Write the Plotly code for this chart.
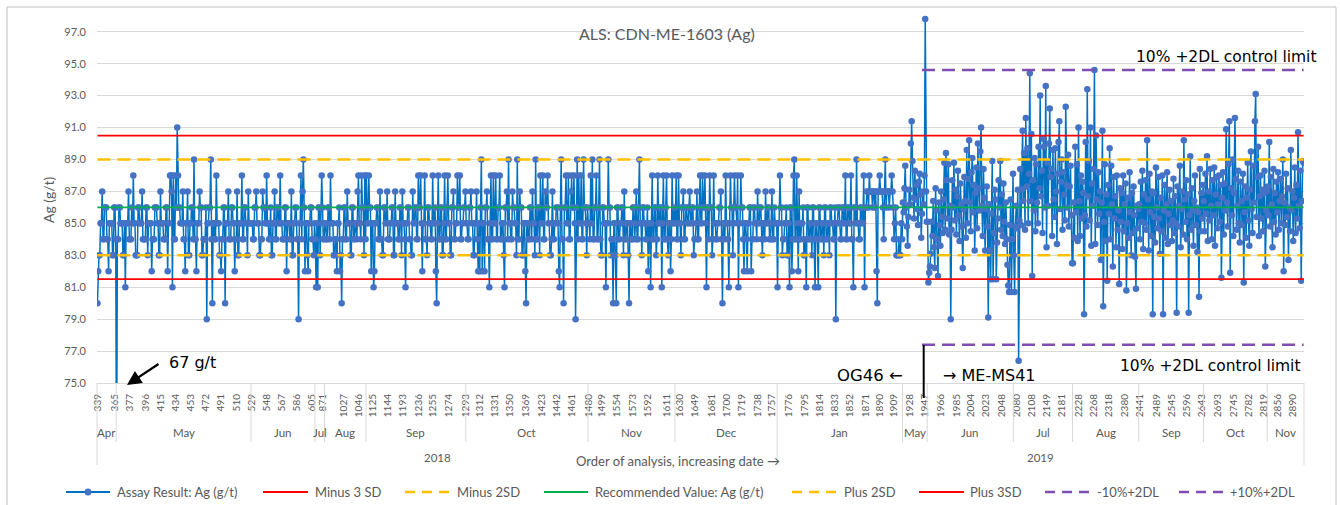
import plotly.graph_objects as go

# ---------------- data ----------------
month_names = ["Apr", "May", "Jun", "Jul", "Aug", "Sep", "Oct", "Nov", "Dec",
               "Jan", "May", "Jun", "Jul", "Aug", "Sep", "Oct", "Nov"]
year_names = ["2018", "2019"]
months_in_2018 = 9

apr_2018 = [80, 82, 83, 83, 85, 85, 87, 84, 84, 86, 86, 86, 84, 84, 82, 85, 85, 85, 85, 83, 83, 86, 86, 84]
may_2018 = [67, 84, 84, 86, 86, 85, 85, 85, 83, 83, 85, 81, 85, 85, 85, 87, 84, 84, 84, 86,
            85, 88, 85, 85, 83, 83, 83, 86, 86, 85, 85, 85, 87, 84, 84, 84, 84, 86, 86, 83,
            85, 85, 85, 85, 82, 84, 84, 84, 86, 86, 86, 85, 85, 83, 83, 87, 85, 85, 85, 84,
            84, 84, 86, 86, 82, 85, 85, 88, 88, 87, 81, 88, 84, 84, 88, 86, 91, 88, 86, 86,
            85, 85, 85, 87, 84, 84, 82, 85, 85, 87, 83, 83, 85, 85, 86, 86, 84, 89, 84, 84,
            82, 85, 85, 85, 87, 86, 86, 83, 83, 84, 84, 84, 86, 79, 85, 85, 86, 86, 89, 84,
            80, 85, 85, 84, 84, 88, 85, 85, 85, 83, 83, 82, 84, 84, 86, 86, 80, 85, 85, 85,
            87, 84, 84, 84, 86, 86, 85, 85, 82, 84, 84, 87, 83, 83, 85, 85, 85, 88, 84, 84,
            86, 86, 85, 85, 83, 87, 85, 85, 85]
jun_2018 = [85, 85, 84, 84, 86, 86, 87, 85, 85, 85, 83, 83, 84, 84, 87, 86, 86, 85, 85, 88,
            85, 85, 84, 84, 86, 83, 83, 85, 85, 87, 84, 84, 86, 86, 85, 85, 88, 85, 85, 84,
            84, 84, 86, 86, 82, 85, 85, 85, 84, 84, 87, 83, 83, 85, 85, 86, 86, 84, 84, 79,
            85, 85, 88, 84, 87, 89, 86, 82, 85, 85, 83, 82, 85, 85, 86, 86, 84, 84, 83, 85]
jul_2018 = [84, 81, 85, 81, 86, 86, 83, 85, 88, 86, 84, 84]
aug_2018 = [85, 85, 84, 84, 86, 86, 84, 88, 85, 85, 85, 83, 83, 84, 84, 82, 85, 85, 86, 82,
            83, 80, 84, 84, 86, 86, 84, 84, 87, 85, 85, 85, 83, 83, 86, 86, 84, 84, 85, 85,
            84, 87, 88, 85, 85, 84, 88, 86, 86, 83, 88, 84]
sep_2018 = [88, 85, 85, 88, 86, 86, 82, 85, 85, 81, 82, 85, 85, 86, 86, 84, 84, 87, 84, 84,
            83, 83, 86, 86, 85, 85, 87, 84, 84, 84, 85, 85, 86, 86, 83, 83, 87, 85, 85, 85,
            84, 84, 86, 86, 83, 87, 85, 85, 84, 81, 85, 85, 86, 86, 84, 84, 83, 83, 87, 85,
            85, 86, 86, 84, 84, 88, 86, 86, 88, 85, 82, 85, 85, 88, 84, 84, 83, 86, 86, 85,
            85, 84, 84, 88, 85, 85, 86, 82, 80, 85, 88, 84, 84, 86, 86, 83, 83, 85, 88, 84,
            84, 86, 88, 85, 85, 83, 83, 86, 86, 87, 84, 84, 85, 85, 88, 86, 86, 88, 84, 84,
            85, 85, 86, 86, 87]
oct_2018 = [85, 85, 84, 84, 86, 86, 87, 85, 85, 83, 83, 85, 85, 87, 84, 82, 85, 82, 86, 89,
            82, 85, 85, 82, 86, 86, 87, 84, 84, 81, 85, 88, 84, 84, 88, 85, 85, 88, 84, 84,
            86, 86, 88, 84, 84, 85, 85, 83, 81, 86, 86, 87, 84, 89, 85, 85, 84, 84, 87, 86,
            86, 85, 85, 83, 89, 84, 84, 87, 86, 86, 83, 83, 85, 85, 82, 80, 85, 85, 84, 84,
            86, 86, 84, 87, 85, 85, 83, 89, 84, 84, 86, 86, 83, 88, 85, 85, 88, 84, 84, 87,
            86, 86, 88, 85, 85, 83, 83, 84, 87, 84, 84, 85, 85, 86, 86, 85, 82, 81, 86, 89,
            84, 84, 80, 86, 86, 88, 85, 85, 88, 84, 84, 87, 88, 86, 86, 88, 85, 79, 86, 89,
            84, 88, 85, 85, 88, 84, 84, 89, 86, 86, 85, 83, 86]
nov_2018 = [85, 85, 84, 88, 85, 89, 84, 84, 86, 86, 88, 84, 84, 86, 89, 84, 83, 83, 86, 86,
            85, 85, 81, 85, 85, 89, 86, 86, 83, 84, 84, 80, 85, 85, 83, 80, 86, 86, 84, 84,
            85, 85, 86, 86, 83, 87, 84, 84, 85, 85, 83, 80, 85, 85, 84, 84, 86, 86, 84, 85,
            87, 84, 84, 86, 89, 85, 85, 83, 86, 86, 85, 85, 84, 84, 86, 82, 85, 85, 81, 85,
            88, 84, 84, 86, 86, 83, 84, 88, 85, 85, 86, 86, 81, 85, 88, 84, 84, 86, 88, 84,
            83, 85, 85, 82, 84, 88, 85, 85, 86]
dec_2018 = [85, 88, 84, 84, 88, 85, 85, 83, 86, 86, 87, 84, 84, 86, 86, 85, 85, 86, 87, 85,
            85, 86, 86, 83, 84, 84, 85, 87, 84, 84, 86, 88, 85, 85, 88, 86, 86, 88, 85, 81,
            86, 86, 84, 88, 86, 86, 83, 84, 88, 85, 85, 84, 84, 85, 85, 86, 86, 87, 84, 80,
            85, 85, 84, 88, 85, 85, 84, 81, 85, 88, 86, 86, 83, 85, 88, 86, 86, 85, 88, 81,
            85, 85, 88, 86, 86, 84, 82, 85, 85, 84, 82, 85, 85, 86, 86, 82, 84, 84, 86, 86,
            85, 85, 84, 87, 85, 85, 86, 86, 84, 83, 85, 85, 84, 87, 85, 85, 86, 86, 84, 84,
            85, 87, 84, 84, 86, 85, 85, 85]
jan_2019 = [81, 85, 85, 88, 86, 86, 83, 84, 84, 85, 85, 86, 83, 83, 85, 81, 86, 86, 82, 84,
            88, 89, 84, 84, 88, 85, 82, 87, 84, 84, 85, 85, 86, 83, 83, 84, 81, 86, 86, 84,
            84, 85, 85, 83, 86, 86, 84, 81, 85, 85, 84, 81, 86, 86, 84, 84, 85, 85, 83, 86,
            86, 84, 84, 85, 85, 83, 86, 86, 85, 85, 84, 84, 86, 79, 85, 85, 86, 86, 85, 84,
            84, 86, 86, 85, 85, 88, 84, 84, 86, 86, 85, 85, 88, 84, 84, 81, 86, 86, 85, 89,
            85, 85, 84, 84, 86, 86, 85, 85, 88, 81, 86, 86, 87, 87, 86, 88, 87, 87, 87, 86,
            87, 87, 86, 87, 82, 80, 87, 87, 88, 87, 87, 87, 86, 84, 87, 89, 86, 87, 87, 87,
            86, 87, 87, 88, 87, 86, 84, 85, 86, 83, 83, 83, 84, 83, 83, 85, 84]
may_2019 = [86.3, 85.7, 87.2, 88.6, 86.0, 84.8, 83.6, 85.4, 87.1, 86.2, 90.0, 91.4, 88.9, 86.6, 85.3, 88.3,
            86.5, 87.4, 85.9, 84.9, 87.6, 88.1, 86.8, 84.1, 85.6, 87.0, 86.2, 88.0, 97.8, 87.0, 85.1]
jun_2019 = [85.1, 81.3, 81.9, 82.3, 83.1, 85.1, 84.2, 86.4, 83.5, 82.2, 87.2, 85.8, 84.0, 81.7, 86.3, 84.9,
            83.6, 87.0, 85.4, 84.4, 86.5, 88.8, 84.6, 89.4, 87.7, 85.3, 88.7, 84.3, 86.1, 79.0,
            84.6, 87.7, 86.0, 88.8, 85.2, 87.1, 84.3, 86.7, 88.3, 85.5, 83.9, 87.5, 86.2, 84.8, 82.2, 85.9,
            87.9, 86.4, 84.1, 89.6, 85.0, 87.8, 90.2, 86.3, 84.5, 88.2, 89.1, 85.7, 87.4, 83.3, 86.9, 88.5,
            84.7, 90.0, 87.2, 85.8, 89.5, 91.0, 86.1, 84.2, 88.4, 86.6, 83.3, 85.9, 87.3, 84.8, 79.1, 86.2,
            83.3, 81.5, 85.6, 88.9, 81.5, 84.4, 87.1, 86.5, 81.5, 83.8, 85.3, 87.7, 86.0, 88.9, 84.6, 86.8,
            84.2, 87.5, 85.1, 83.7, 86.3, 84.0, 82.4, 81.1, 80.7, 84.9, 86.5, 80.7, 84.0, 88.1]
jul_2019 = [83.0, 80.7, 84.8, 86.1, 84.7, 87.1, 76.4, 85.2, 88.4, 84.9, 87.1, 90.8, 86.4, 89.4, 84.6, 91.6,
            87.3, 89.7, 85.0, 88.1, 94.4, 86.4, 90.6, 81.7, 87.7, 85.8, 89.1, 84.5, 88.7, 86.3, 85.0, 89.8,
            87.2, 93.0, 86.7, 88.3, 84.4, 90.3, 89.8, 86.0, 93.6, 83.5, 88.8, 86.1, 90.0, 92.2, 87.9, 88.4,
            84.2, 89.6, 86.5, 85.4, 89.7, 87.0, 83.7, 88.1, 90.1, 91.4, 85.9, 87.6, 89.0, 84.6, 88.2, 86.8,
            85.2, 92.3, 87.4, 86.0, 89.3, 84.8, 87.3, 88.6, 85.5, 82.5]
aug_2019 = [82.5, 86.3, 84.1, 89.8, 85.7, 88.7, 83.9, 91.0, 86.4, 84.2, 88.0, 85.3, 87.6, 86.9, 79.3, 85.5,
            90.1, 84.8, 93.4, 86.7, 88.9, 85.2, 91.0, 83.6, 87.5, 86.1, 88.4, 94.6, 83.7, 90.5, 86.5, 84.9,
            88.2, 85.6, 87.0, 82.7, 86.3, 90.8, 79.8, 85.1, 88.7, 83.9, 86.8, 81.4, 87.4, 85.6, 89.7, 84.0,
            88.6, 86.2, 82.3, 87.9, 85.3, 86.7, 83.5, 88.0, 84.6, 85.8, 81.2, 87.2, 85.1, 86.9, 83.4, 88.0,
            84.5, 86.2, 87.5, 80.8, 85.0, 86.6, 84.1, 88.2, 85.7, 83.0, 86.9, 84.4, 87.3, 85.5, 82.9, 80.9,
            86.1, 84.7, 85.9]
sep_2019 = [86.2, 84.0, 87.6, 85.1, 88.3, 83.4, 86.8, 85.0, 87.7, 84.6, 90.2, 86.5, 83.3, 88.1, 85.7, 84.2,
            87.0, 79.3, 86.9, 85.4, 83.8, 88.5, 86.0, 84.7, 87.9, 85.3, 83.1, 86.6, 84.5, 88.0, 79.3, 85.8,
            87.4, 84.1, 86.2, 88.2, 83.7, 85.6, 87.1, 84.9, 86.4, 83.9, 85.2, 87.8, 84.4, 86.7, 85.0, 79.4,
            87.3, 84.8, 86.1, 88.6, 83.5, 85.9, 87.0, 84.3, 90.2, 86.5, 85.1, 87.7, 84.0, 86.8, 79.4, 85.5,
            89.2, 84.6, 87.2, 85.8, 83.6, 86.4, 88.0, 84.9, 86.0, 83.2, 85.7, 80.4, 88.4, 84.5, 86.9, 85.3,
            87.4]
oct_2019 = [86.4, 84.5, 88.1, 85.6, 89.2, 83.9, 87.0, 85.2, 88.4, 86.1, 84.0, 87.7, 85.5, 88.5, 83.6, 86.8,
            87.9, 84.7, 86.2, 88.0, 85.1, 87.4, 81.6, 86.6, 88.2, 84.3, 87.5, 85.8, 90.9, 86.3, 84.8, 88.7,
            91.4, 81.9, 87.2, 85.5, 89.0, 84.2, 86.9, 91.6, 87.8, 84.6, 86.1, 88.3, 85.0, 83.8, 87.6, 86.4,
            84.9, 88.1, 81.3, 85.7, 87.3, 84.1, 86.6, 88.8, 85.2, 83.6, 87.1, 89.5, 85.9, 84.4, 88.6, 86.3,
            91.4, 93.1, 85.4, 87.9, 89.8, 84.2, 86.7, 88.0, 85.3, 87.1, 84.5, 86.9, 88.3, 82.3, 85.8, 87.0]
nov_2019 = [87.3, 85.5, 90.1, 84.8, 87.9, 86.2, 83.5, 88.4, 85.1, 86.9, 84.3, 87.6, 85.7, 88.2, 84.6, 86.4,
            87.8, 85.0, 86.7, 89.0, 82.0, 86.3, 84.9, 88.1, 85.4, 87.2, 82.7, 86.0, 84.5, 89.6, 85.8, 87.0,
            83.9, 86.6, 88.5, 84.4, 87.4, 85.3, 90.7, 86.1, 84.7, 88.3, 81.4, 86.4, 88.9, 88.8]

month_values = [apr_2018, may_2018, jun_2018, jul_2018, aug_2018, sep_2018, oct_2018, nov_2018,
                dec_2018, jan_2019, may_2019, jun_2019, jul_2019, aug_2019, sep_2019, oct_2019, nov_2019]

tick_labels = ["339", "365", "377", "396", "415", "434", "453", "472", "491", "510",
               "529", "548", "567", "586", "605", "871", "1027", "1046", "1125", "1144",
               "1193", "1236", "1255", "1274", "1293", "1312", "1331", "1350", "1369", "1423",
               "1442", "1461", "1480", "1499", "1554", "1573", "1592", "1611", "1630", "1649",
               "1681", "1700", "1719", "1738", "1757", "1776", "1795", "1814", "1833", "1852",
               "1871", "1890", "1909", "1928", "1947", "1966", "1985", "2004", "2023", "2048",
               "2080", "2108", "2149", "2181", "2228", "2268", "2318", "2380", "2441", "2489",
               "2545", "2596", "2643", "2693", "2745", "2782", "2819", "2856", "2890"]
tick_index = [0, 22, 41, 60, 79, 98, 117, 136, 155, 174,
              193, 212, 231, 250, 268, 282, 309, 328, 345, 364,
              383, 403, 420, 440, 462, 479, 498, 517, 536, 557,
              575, 594, 615, 632, 651, 671, 690, 713, 730, 748,
              769, 788, 807, 827, 845, 866, 886, 905, 924, 943,
              963, 980, 997, 1018, 1037, 1056, 1076, 1094, 1113, 1133,
              1152, 1170, 1189, 1208, 1229, 1248, 1267, 1287, 1306, 1327,
              1346, 1364, 1383, 1404, 1423, 1442, 1461, 1479, 1498]

recommended_value = 86.0
minus_3sd = 81.5
minus_2sd = 83.0
plus_2sd = 89.0
plus_3sd = 90.5
minus_10pct_2dl = 77.4
plus_10pct_2dl = 94.6
dl_start_index = 1033     # first sample of the ME-MS41 period with control limits

# ---------------- geometry (pixels) ----------------
W, H = 1340, 505
PL, PR, PT, PB = 97, 1304, 11, 383
def px(xp):
    return (xp - PL) / (PR - PL)
def py(yp):
    return (PB - yp) / (PB - PT)

GRAY = "#595959"
GRID = "#d9d9d9"
LFONT = "Lato"
BFONT = "DejaVu Sans"

y = []
group_start = []
for vals in month_values:
    group_start.append(len(y))
    y.extend(vals)
N = len(y)
x = list(range(N))

fig = go.Figure()
fig.add_trace(go.Scatter(x=x, y=y, mode="lines+markers", name="Assay Result: Ag (g/t)",
                         line=dict(color="#0070C0", width=1.5),
                         marker=dict(color="#4472C4", size=6.5)))

ref_lines = [
    ("Minus 3 SD", minus_3sd, "#FF0000", 1.8, "solid", 0),
    ("Minus 2SD", minus_2sd, "#FFC000", 2.6, "13px,7px", 0),
    ("Recommended Value: Ag (g/t)", recommended_value, "#00B050", 1.8, "solid", 0),
    ("Plus 2SD", plus_2sd, "#FFC000", 2.6, "13px,7px", 0),
    ("Plus 3SD", plus_3sd, "#FF0000", 1.8, "solid", 0),
    ("-10%+2DL", minus_10pct_2dl, "#7F4DB3", 2.4, "13px,7px", dl_start_index),
    ("+10%+2DL", plus_10pct_2dl, "#7F4DB3", 2.4, "13px,7px", dl_start_index),
]
for name, v, c, w, d, s in ref_lines:
    fig.add_trace(go.Scatter(x=[s, N - 1], y=[v, v], mode="lines", name=name,
                             line=dict(color=c, width=w, dash=d)))

shapes = []
annotations = []

def note(text, xp, yp, font, xanchor="center", **kw):
    annotations.append(dict(text=text, x=px(xp), y=py(yp), xref="paper", yref="paper",
                            xanchor=xanchor, yanchor="middle", showarrow=False, font=font, **kw))

# chart border
shapes.append(dict(type="rect", xref="paper", yref="paper", x0=px(7), x1=px(1336), y0=py(520), y1=py(7),
                   line=dict(color="#bfbfbf", width=1), layer="below"))

# multi-level category axis: separators and labels
bounds = group_start + [N]
year_bounds = [0, group_start[months_in_2018], N]
cat_px = (PR - PL) / N
for b in bounds:
    yb = 465 if b in year_bounds else 442
    xx = b / N
    shapes.append(dict(type="line", xref="paper", yref="paper", x0=xx, x1=xx, y0=py(PB), y1=py(yb),
                       line=dict(color=GRID, width=1)))
month_font = dict(family=LFONT, size=11.5, color=GRAY)
for i, m in enumerate(month_names):
    note(m, PL + (bounds[i] + bounds[i + 1]) / 2 * cat_px, 433, month_font)
for i, yr in enumerate(year_names):
    note(yr, PL + (year_bounds[i] + year_bounds[i + 1]) / 2 * cat_px, 457, month_font)

# titles
note("ALS: CDN-ME-1603 (Ag)", 667, 34, dict(family=LFONT, size=16, color=GRAY))
note("Ag (g/t)", 48, 200, dict(family=LFONT, size=14, color=GRAY), textangle=-90)
note("Order of analysis, increasing date \u2192", 678, 461, dict(family=LFONT, size=13, color=GRAY))

# in-chart notes
note_font = dict(family=BFONT, size=15.5, color="black")
note("10% +2DL control limit", 1134, 57, note_font, xanchor="left")
note("10% +2DL control limit", 1118, 366, note_font, xanchor="left")
note("OG46 \u2190", 905, 375, dict(family=BFONT, size=16.5, color="black"), xanchor="right")
note("\u2192 ME-MS41", 941, 375, dict(family=BFONT, size=16, color="black"), xanchor="left")
note("67 g/t", 167, 362, dict(family=BFONT, size=16, color="black"), xanchor="left")
annotations.append(dict(text="", x=px(127), y=py(385), xref="paper", yref="paper", showarrow=True,
                        ax=33, ay=-22, arrowhead=2, arrowsize=1.3, arrowwidth=2.2, arrowcolor="black"))
shapes.append(dict(type="line", xref="paper", yref="paper", x0=px(923.7), x1=px(923.7),
                   y0=py(345), y1=py(398), line=dict(color="black", width=2)))

# legend (drawn manually to match the original spacing)
LY = 492
legend_items = [
    ("Assay Result: Ag (g/t)", 66, 110, 115, "#0070C0", 2, "solid"),
    ("Minus 3 SD", 263, 308, 313, "#FF0000", 2, "solid"),
    ("Minus 2SD", 405, 450, 455, "#FFC000", 2.6, "10px,7px"),
    ("Recommended Value: Ag (g/t)", 544, 588, 593, "#00B050", 2, "solid"),
    ("Plus 2SD", 792, 837, 842, "#FFC000", 2.6, "10px,7px"),
    ("Plus 3SD", 919, 964, 968, "#FF0000", 2, "solid"),
    ("-10%+2DL", 1045, 1091, 1095, "#7F4DB3", 2.4, "10px,7px"),
    ("+10%+2DL", 1179, 1225, 1228, "#7F4DB3", 2.4, "10px,7px"),
]
legend_font = dict(family=LFONT, size=13, color=GRAY)
for name, x0, x1, xt, c, w, d in legend_items:
    shapes.append(dict(type="line", xref="paper", yref="paper", x0=px(x0), x1=px(x1), y0=py(LY), y1=py(LY),
                       line=dict(color=c, width=w, dash=d)))
    note(name, xt, LY, legend_font, xanchor="left")
shapes.append(dict(type="circle", xref="paper", yref="paper", x0=px(84.5), x1=px(91.5), y0=py(LY + 3.5),
                   y1=py(LY - 3.5), fillcolor="#4472C4", line=dict(width=0)))

fig.update_layout(
    width=W, height=H, showlegend=False,
    margin=dict(l=PL, r=W - PR, t=PT, b=H - PB, pad=0),
    paper_bgcolor="white", plot_bgcolor="white",
    font=dict(family=LFONT, color=GRAY),
    shapes=shapes, annotations=annotations,
)
fig.update_xaxes(range=[-0.5, N - 0.5], tickmode="array", tickvals=tick_index, ticktext=tick_labels,
                 tickangle=-90, tickfont=dict(family=LFONT, size=10, color=GRAY), showgrid=False,
                 zeroline=False, showline=True, linecolor=GRID, linewidth=1, ticks="",
                 ticklabelstandoff=6, automargin=False)
fig.update_yaxes(range=[75, 98.3], tick0=75, dtick=2, tickformat=".1f", showgrid=True, gridcolor=GRID,
                 gridwidth=1, zeroline=False, ticks="", tickfont=dict(family=LFONT, size=11, color=GRAY),
                 ticklabelstandoff=10, automargin=False)

fig.write_html("out.html", config={"displayModeBar": False},
               post_script="document.body.style.margin='0px';")
